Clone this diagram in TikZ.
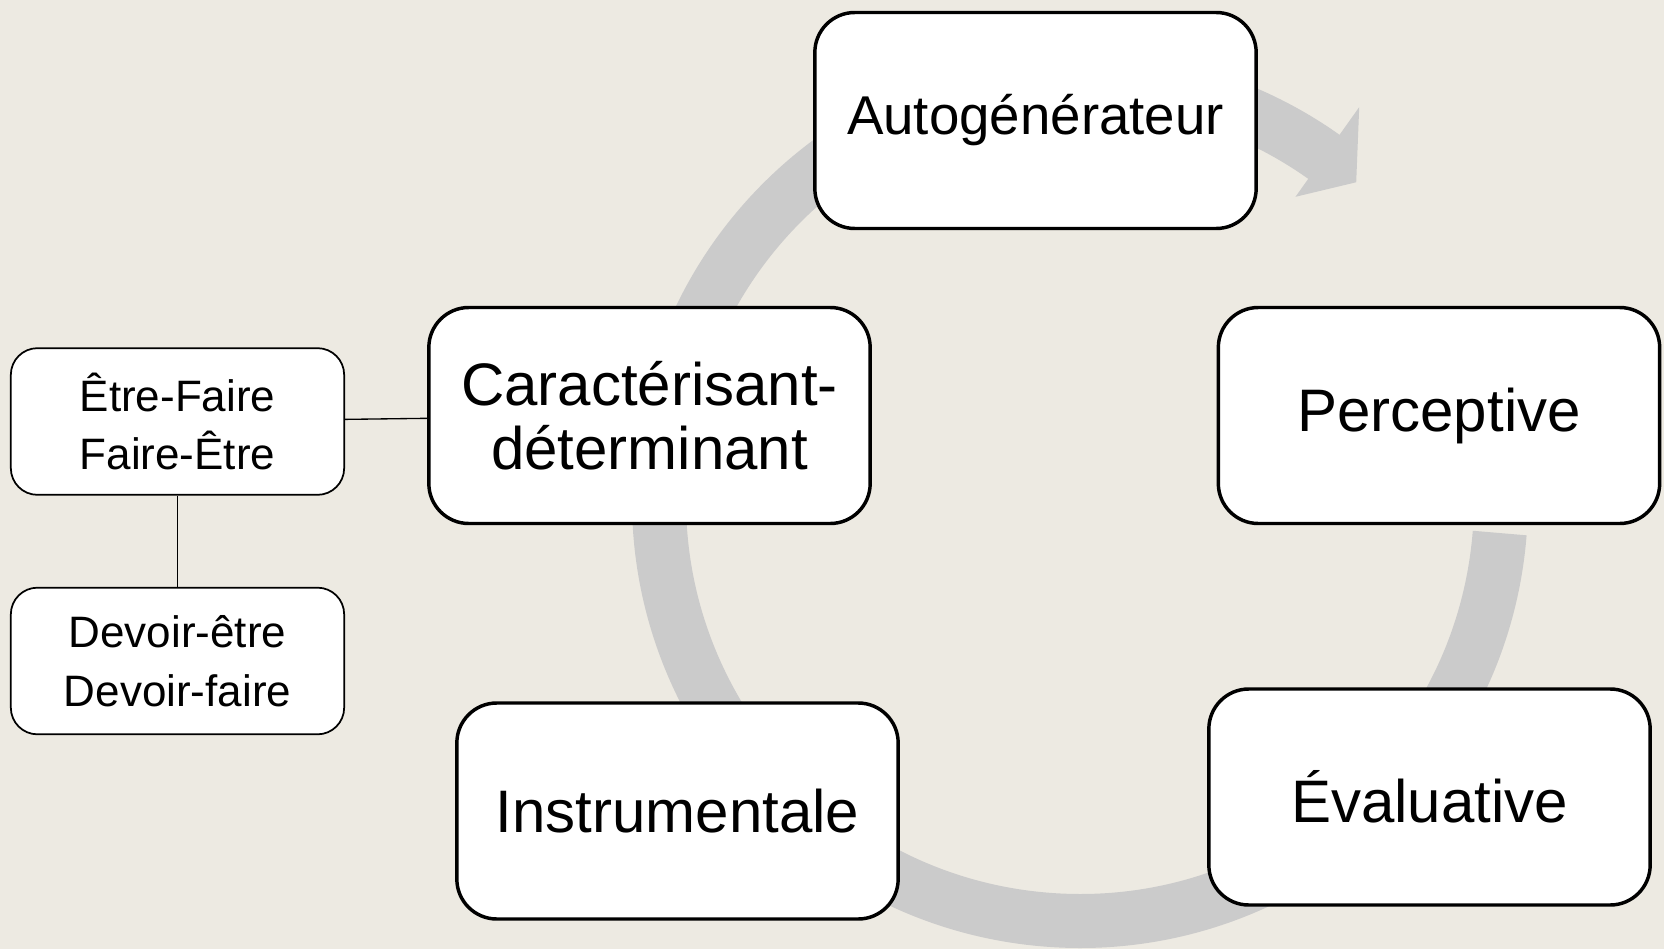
\documentclass[tikz,border=0pt]{standalone}
\usepackage{fontspec}
\setmainfont{Liberation Sans}

\definecolor{bgbeige}{RGB}{237,234,226}
\definecolor{ringgray}{RGB}{203,203,203}

\tikzset{
  phase/.style={draw=black, line width=2.6pt, fill=white, rounded corners=30pt,
    minimum width=331pt, minimum height=162pt, align=center,
    font=\fontsize{45}{48}\selectfont},
  modality/.style={draw=black, line width=1.3pt, fill=white, rounded corners=20pt,
    minimum width=250pt, minimum height=110pt, align=center,
    font=\fontsize{33}{44}\selectfont},
  link/.style={line width=1pt},
}

\begin{document}
\begin{tikzpicture}[x=0.75pt,y=0.75pt,yscale=-1,xscale=1]
\useasboundingbox (0,0) rectangle (1664,949);

%Background
\fill[bgbeige] (0,0) rectangle (1664,949);

%Circular arrow
\draw[ringgray, line width=40.5pt] (1080,500) ++(4.5:421) arc[start angle=4.5, end angle=306, radius=421];
\fill[ringgray, shift={(1080,500)}] (305.4:372) -- (305.4:482) -- (311:421) -- cycle;

% Phases
\node[phase, font=\fontsize{41}{48}\selectfont] (auto) at (1035.5,120.5) {Autogénérateur};
\node[phase] (perc) at (1439,415.5) {Perceptive};
\node[phase] (eval) at (1429.5,797) {Évaluative};
\node[phase] (instr) at (677.5,811) {Instrumentale};
\node[phase] (carac) at (649.5,415.5) {Caractérisant-\\déterminant};

% Modalities
\node[modality] (etre) at (177.5,421.5) {Être-Faire\\Faire-Être};
\node[modality] (devoir) at (177.5,661) {Devoir-être\\Devoir-faire};

%Links
\draw[link] (etre) -- (carac);
\draw[link] (etre) -- (devoir);

\end{tikzpicture}
\end{document}
